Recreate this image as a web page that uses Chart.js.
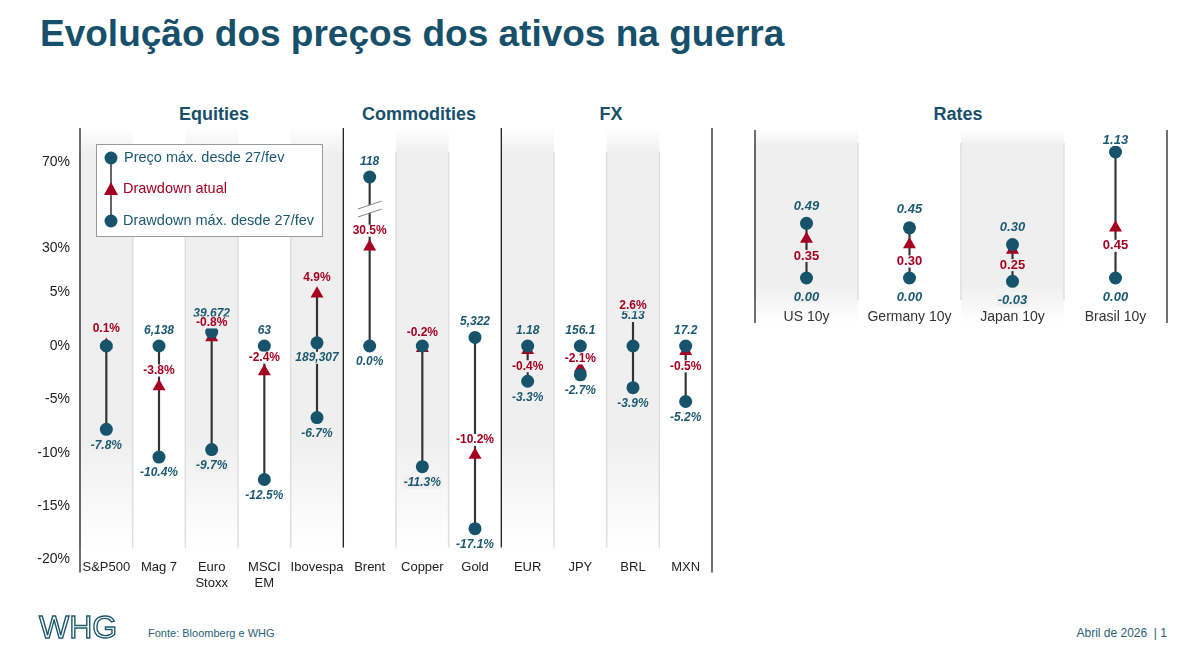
<!DOCTYPE html>
<html>
<head>
<meta charset="utf-8">
<script src="https://cdn.jsdelivr.net/npm/chart.js@4.4.1/dist/chart.umd.min.js"></script>
<style>
  body { margin: 0; width: 1200px; height: 659px; background: #fff; position: relative; overflow: hidden;
         font-family: "Liberation Sans", Arial, sans-serif; }
  #title { position: absolute; left: 40px; top: 15px; font-size: 37px; line-height: 1; font-weight: bold; color: #17506a; white-space: nowrap; }
  .sec { position: absolute; top: 105px; font-size: 18px; line-height: 1; font-weight: bold; color: #17506a; transform: translateX(-50%); white-space: nowrap; }
  #left { position: absolute; left: 0; top: 100px; }
  #right { position: absolute; left: 740px; top: 100px; }
  #logo { position: absolute; left: 39px; top: 611px; font-size: 32px; line-height: 1; font-weight: normal; color: #fff;
          -webkit-text-stroke: 1.4px #1d5a6e; letter-spacing: 0; }
  #src { position: absolute; left: 148px; top: 628px; font-size: 11px; line-height: 1; color: #2b6275; }
  #date { position: absolute; right: 33px; top: 627px; font-size: 12px; line-height: 1; color: #2b6275; white-space: pre; }
</style>
</head>
<body>
<div id="title">Evolução dos preços dos ativos na guerra</div>
<div class="sec" style="left:214px">Equities</div>
<div class="sec" style="left:419px">Commodities</div>
<div class="sec" style="left:611px">FX</div>
<div class="sec" style="left:958px">Rates</div>
<canvas id="left" width="725" height="520" style="width:725px;height:520px"></canvas>
<canvas id="right" width="450" height="240" style="width:450px;height:240px"></canvas>
<div id="logo">WHG</div>
<div id="src">Fonte: Bloomberg e WHG</div>
<div id="date">Abril de 2026  | 1</div>

<script>
// ---- data: equities / commodities / FX (move in % since 27/fev)
const leftCats = ['S&P500', 'Mag 7', ['Euro', 'Stoxx'], ['MSCI', 'EM'], 'Ibovespa', 'Brent', 'Copper', 'Gold', 'EUR', 'JPY', 'BRL', 'MXN'];
const leftMax = [0, 0, 1.3, 0, 0.3, 63, 0, 0.8, 0, 0, 0, 0];
const leftCur = [0.1, -3.8, 0.8, -2.4, 4.9, 30.5, -0.2, -10.2, -0.4, -2.1, 2.6, -0.5];
const leftMin = [-7.8, -10.4, -9.7, -12.5, -6.7, 0, -11.3, -17.1, -3.3, -2.7, -3.9, -5.2];
const leftMaxLabels = [null, '6,138', '39,672', '63', '189,307', '118', null, '5,322', '1.18', '156.1', '5.13', '17.2'];
const leftCurLabels = ['0.1%', '-3.8%', '-0.8%', '-2.4%', '4.9%', '30.5%', '-0.2%', '-10.2%', '-0.4%', '-2.1%', '2.6%', '-0.5%'];
const yTicks = [-20, -15, -10, -5, 0, 5, 30, 70];

// ---- data: rates (change, p.p.)
const rateCats = ['US 10y', 'Germany 10y', 'Japan 10y', 'Brasil 10y'];
const rateMax = [0.49, 0.45, 0.30, 1.13];
const rateCur = [0.35, 0.30, 0.25, 0.45];
const rateMin = [0.00, 0.00, -0.03, 0.00];

// label offsets (px, negative = above the marker)
const leftMaxDy = [0, -15, -18, -15, 15, -15, 0, -16, -15, -15, -30, -15];
const leftCurDy = [-16, -16, -15, -14, -16, -16, -15, -15, 16, -10, -13, 15];
const leftMinDy = 16;
const rateMaxDy = [-17, -18, -17, -12];
const rateCurDy = [17, 17, 15, 18];
const rateMinDy = 19;

const TEAL = '#17536b';
const TEAL_TXT = '#1b5a72';
const RED = '#a50021';
const BAND = '#efefef';
const FONT = '"Liberation Sans", Arial, sans-serif';

// broken y axis: linear up to 5%, then compressed
function toAxis(v) {
  if (v <= 5) return v;
  if (v <= 30) return 5 + (v - 5) * (9.2 - 5) / 25;
  return 9.2 + (v - 30) * (17.23 - 9.2) / 40;
}
const BREAK_AT = 48.5;

function bandsPlugin(grayIdx, fadeTop, fadeBot, edgeTop, edgeBot, extBottom, lines) {
  return {
    id: 'bands',
    beforeDraw(chart) {
      const {ctx, chartArea: a} = chart;
      const n = chart.data.labels.length;
      const w = (a.right - a.left) / n;
      const y0 = a.top, y1 = a.bottom + extBottom;
      ctx.save();
      grayIdx.forEach(i => {
        const x0 = a.left + i * w;
        const g = ctx.createLinearGradient(0, y0, 0, y1);
        g.addColorStop(0, '#ffffff');
        g.addColorStop(fadeTop, BAND);
        g.addColorStop(fadeBot, BAND);
        g.addColorStop(1, '#ffffff');
        ctx.fillStyle = g;
        ctx.fillRect(x0, y0, w, y1 - y0);
        ctx.strokeStyle = '#dedede';
        ctx.lineWidth = 1.5;
        [x0, x0 + w].forEach(x => {
          ctx.beginPath();
          ctx.moveTo(x, a.top + edgeTop);
          ctx.lineTo(x, a.bottom + edgeBot);
          ctx.stroke();
        });
      });
      // black frame / section dividers
      ctx.strokeStyle = '#222';
      ctx.lineWidth = 1.3;
      lines.forEach(([idx, ext]) => {
        const x = a.left + idx * w;
        ctx.beginPath();
        ctx.moveTo(x, a.top);
        ctx.lineTo(x, a.bottom + ext);
        ctx.stroke();
      });
      ctx.restore();
    }
  };
}

function drawLabel(ctx, text, x, y, font, color, bg) {
  ctx.font = font;
  const tw = ctx.measureText(text).width;
  ctx.fillStyle = bg;
  ctx.fillRect(x - tw / 2 - 1, y - 6, tw + 2, 12);
  ctx.fillStyle = color;
  ctx.fillText(text, x, y);
}

function labelsPlugin(grayIdx, sets) {
  return {
    id: 'labels',
    afterDatasetsDraw(chart) {
      const ctx = chart.ctx;
      ctx.save();
      ctx.textAlign = 'center';
      ctx.textBaseline = 'middle';
      sets.forEach(s => {
        const meta = chart.getDatasetMeta(s.ds);
        meta.data.forEach((pt, i) => {
          const t = s.texts[i];
          if (t == null) return;
          const dy = Array.isArray(s.dy) ? s.dy[i] : s.dy;
          drawLabel(ctx, t, pt.x, pt.y + dy, s.font, s.color, grayIdx.includes(i) ? BAND : '#fff');
        });
      });
      ctx.restore();
    }
  };
}

const breakPlugin = {
  id: 'axisBreak',
  afterDatasetsDraw(chart) {
    const {ctx} = chart;
    const x = chart.getDatasetMeta(1).data[5].x;
    const y = chart.scales.y.getPixelForValue(toAxis(BREAK_AT));
    ctx.save();
    ctx.fillStyle = '#fff';
    ctx.beginPath();
    ctx.moveTo(x - 12, y + 1); ctx.lineTo(x + 12, y - 7);
    ctx.lineTo(x + 12, y + 1); ctx.lineTo(x - 12, y + 9);
    ctx.closePath(); ctx.fill();
    ctx.strokeStyle = '#888';
    ctx.lineWidth = 1;
    [0, 8].forEach(o => {
      ctx.beginPath();
      ctx.moveTo(x - 12, y + 1 + o); ctx.lineTo(x + 12, y - 7 + o);
      ctx.stroke();
    });
    ctx.restore();
  }
};

const legendPlugin = {
  id: 'boxLegend',
  afterDraw(chart) {
    const ctx = chart.ctx;
    const top = 100;
    ctx.save();
    ctx.fillStyle = '#fff';
    ctx.fillRect(96, 144 - top, 226, 92);
    ctx.strokeStyle = '#9a9a9a';
    ctx.lineWidth = 1;
    ctx.strokeRect(96.5, 144.5 - top, 226, 92);
    ctx.strokeStyle = '#333';
    ctx.lineWidth = 1.5;
    ctx.beginPath(); ctx.moveTo(111, 158 - top); ctx.lineTo(111, 221 - top); ctx.stroke();
    ctx.fillStyle = TEAL;
    [158, 221].forEach(y => { ctx.beginPath(); ctx.arc(111, y - top, 6.5, 0, Math.PI * 2); ctx.fill(); });
    ctx.fillStyle = RED;
    ctx.beginPath();
    ctx.moveTo(111, 182 - top); ctx.lineTo(118, 195 - top); ctx.lineTo(104, 195 - top);
    ctx.closePath(); ctx.fill();
    ctx.font = '14.5px ' + FONT;
    ctx.textBaseline = 'middle';
    ctx.fillStyle = TEAL_TXT;
    ctx.fillText('Preço máx. desde 27/fev', 124, 158 - top);
    ctx.fillText('Drawdown máx. desde 27/fev', 123, 221 - top);
    ctx.fillStyle = RED;
    ctx.fillText('Drawdown atual', 123, 189 - top);
    ctx.restore();
  }
};

const pointDs = (data, style, color, radius) => ({
  type: 'line', data, showLine: false, pointStyle: style, pointRadius: radius,
  pointBackgroundColor: color, pointBorderWidth: 0, pointHoverRadius: radius, order: 1
});
const rangeDs = (a, b, c, f) => ({
  type: 'bar', order: 10, backgroundColor: '#333', barThickness: 1.5, borderWidth: 0,
  data: a.map((v, i) => [f(Math.min(v, b[i], c[i])), f(Math.max(v, b[i], c[i]))])
});

// ---- left chart
const leftGray = [0, 2, 4, 6, 8, 10];
new Chart(document.getElementById('left'), {
  type: 'bar',
  data: {
    labels: leftCats,
    datasets: [
      rangeDs(leftMax, leftCur, leftMin, toAxis),
      pointDs(leftMax.map(toAxis), 'circle', TEAL, 6.5),
      pointDs(leftMin.map(toAxis), 'circle', TEAL, 6.5),
      pointDs(leftCur.map(toAxis), 'triangle', RED, 7.5)
    ]
  },
  options: {
    responsive: false, animation: false,
    layout: { padding: { top: 28, right: 13, left: 0, bottom: 0 } },
    plugins: { legend: { display: false }, tooltip: { enabled: false } },
    scales: {
      x: {
        grid: { display: false, drawTicks: false }, border: { display: false },
        ticks: { color: '#222', font: { size: 13, family: FONT }, padding: 0, maxRotation: 0, autoSkip: false },
        afterFit: s => { s.height = 60.4; }
      },
      y: {
        min: -20, max: 20.41,
        grid: { display: false, drawTicks: false }, border: { display: false },
        afterBuildTicks: s => { s.ticks = yTicks.map(v => ({ value: toAxis(v) })); },
        ticks: { color: '#222', font: { size: 14, family: FONT }, padding: 10,
                 callback: (v, i) => yTicks[i] + '%' },
        afterFit: s => { s.width = 80; }
      }
    }
  },
  plugins: [
    bandsPlugin(leftGray, 0.06, 0.74, 24, -12, -10, [[0, 13], [5, -12], [8, -12], [12, 13]]),
    labelsPlugin(leftGray, [
      { ds: 1, texts: leftMaxLabels, dy: leftMaxDy, font: 'italic bold 12px ' + FONT, color: TEAL_TXT },
      { ds: 2, texts: leftMin.map(v => v.toFixed(1) + '%'), dy: leftMinDy, font: 'italic bold 12px ' + FONT, color: TEAL_TXT },
      { ds: 3, texts: leftCurLabels, dy: leftCurDy, font: 'bold 12px ' + FONT, color: RED }
    ]),
    breakPlugin,
    legendPlugin
  ]
});

// ---- right chart (rates)
const rateGray = [0, 2];
const idt = v => v;
new Chart(document.getElementById('right'), {
  type: 'bar',
  data: {
    labels: rateCats,
    datasets: [
      rangeDs(rateMax, rateCur, rateMin, idt),
      pointDs(rateMax, 'circle', TEAL, 6.5),
      pointDs(rateMin, 'circle', TEAL, 6.5),
      pointDs(rateCur, 'triangle', RED, 7.5)
    ]
  },
  options: {
    responsive: false, animation: false,
    layout: { padding: { top: 30, right: 23, left: 15, bottom: 0 } },
    plugins: { legend: { display: false }, tooltip: { enabled: false } },
    scales: {
      x: {
        grid: { display: false, drawTicks: false }, border: { display: false },
        ticks: { color: '#333', font: { size: 14, family: FONT }, padding: 4, maxRotation: 0, autoSkip: false },
        afterFit: s => { s.height = 35; }
      },
      y: { display: false, min: -0.242, max: 1.327 }
    }
  },
  plugins: [
    bandsPlugin(rateGray, 0.08, 0.8, 13, -5, 18, [[0, 18], [4, 18]]),
    labelsPlugin(rateGray, [
      { ds: 1, texts: rateMax.map(v => v.toFixed(2)), dy: rateMaxDy, font: 'italic bold 13px ' + FONT, color: TEAL_TXT },
      { ds: 2, texts: rateMin.map(v => v.toFixed(2)), dy: rateMinDy, font: 'italic bold 13px ' + FONT, color: TEAL_TXT },
      { ds: 3, texts: rateCur.map(v => v.toFixed(2)), dy: rateCurDy, font: 'bold 13px ' + FONT, color: RED }
    ])
  ]
});
</script>
</body>
</html>
